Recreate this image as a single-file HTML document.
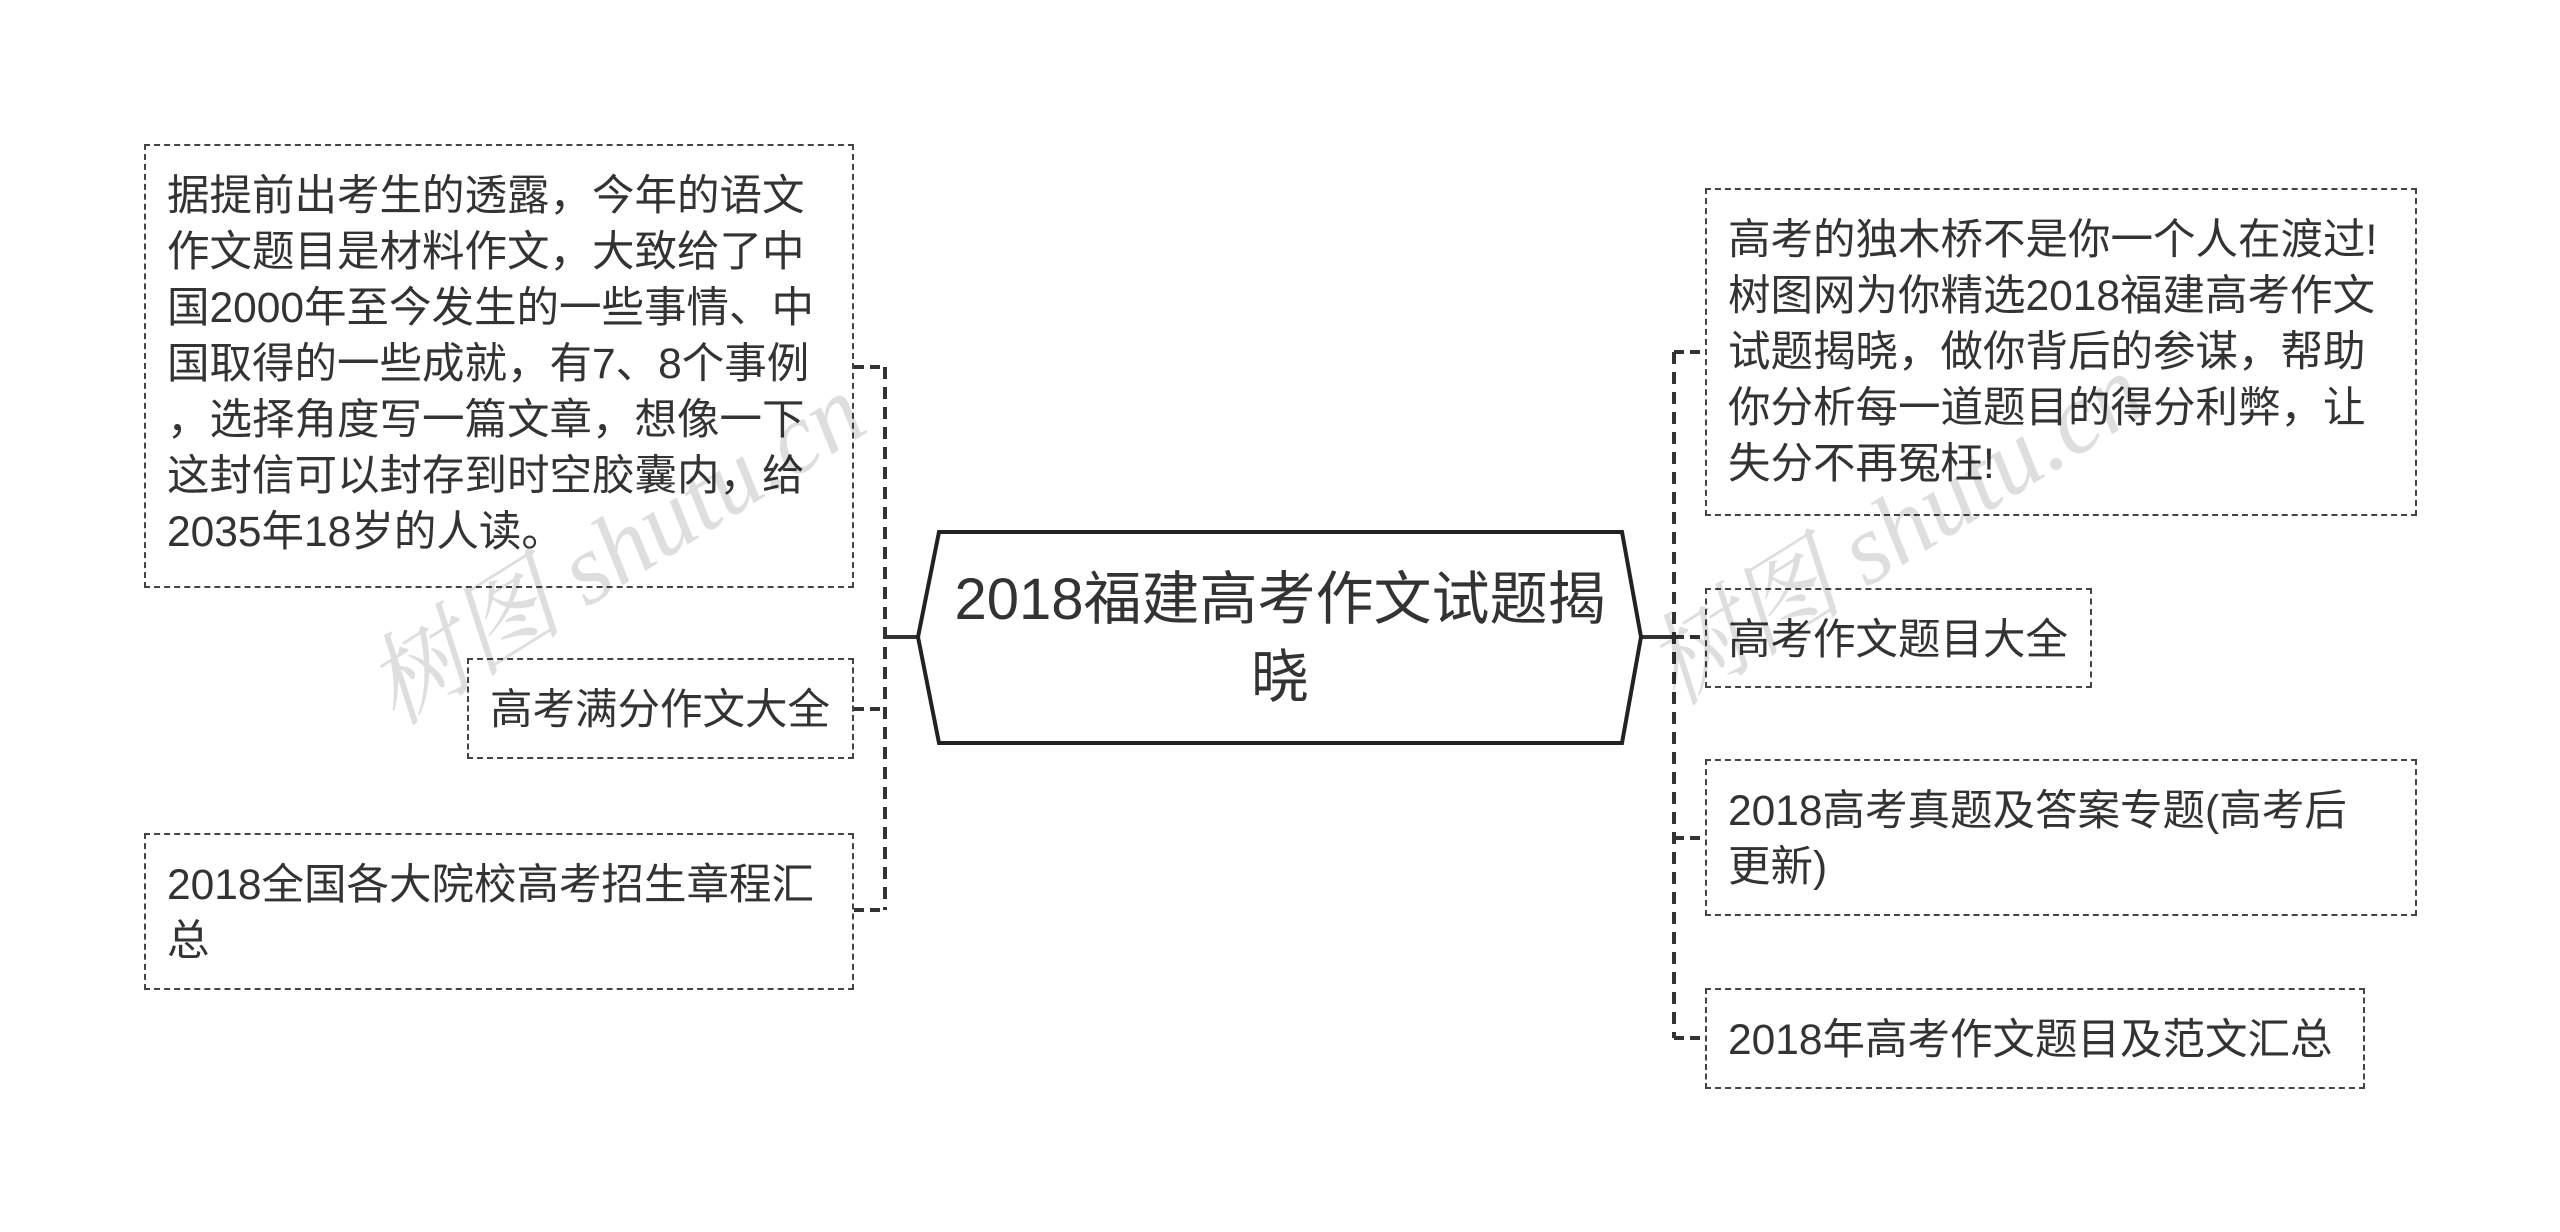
<!DOCTYPE html>
<html><head><meta charset="utf-8"><style>
html,body{margin:0;padding:0;background:#fff;}
body{width:2560px;height:1232px;position:relative;overflow:hidden;font-family:"Liberation Sans","Noto Sans CJK SC",sans-serif;color:#333;}
.b{position:absolute;box-sizing:border-box;border:2px dashed #444;font-size:42.5px;line-height:56px;padding:23px 10px 0 21px;white-space:nowrap;}
.wm{position:absolute;font-size:100px;color:rgba(0,0,0,0.13);transform:rotate(-32deg);white-space:nowrap;font-family:"Liberation Serif","Noto Serif CJK SC",serif;font-style:italic;}
</style></head><body>
<svg width="2560" height="1232" style="position:absolute;left:0;top:0">
<g stroke="#333" stroke-width="4" fill="none">
<line x1="885" y1="367" x2="885" y2="910" stroke-dasharray="12,8"/>
<line x1="854" y1="367" x2="885" y2="367" stroke-dasharray="10,6"/>
<line x1="854" y1="709" x2="885" y2="709" stroke-dasharray="10,6"/>
<line x1="854" y1="910" x2="885" y2="910" stroke-dasharray="10,6"/>
<line x1="885" y1="637" x2="918" y2="637"/>
<line x1="1674" y1="352" x2="1674" y2="1038" stroke-dasharray="12,8"/>
<line x1="1674" y1="352" x2="1705" y2="352" stroke-dasharray="10,6"/>
<line x1="1674" y1="637" x2="1705" y2="637" stroke-dasharray="10,6"/>
<line x1="1674" y1="838" x2="1705" y2="838" stroke-dasharray="10,6"/>
<line x1="1674" y1="1038" x2="1705" y2="1038" stroke-dasharray="10,6"/>
<line x1="1641" y1="637" x2="1674" y2="637"/>
</g>
<polygon points="918,637 939,532 1622,532 1641,637 1622,743 939,743" fill="#fff" stroke="#222" stroke-width="4"/>
<text x="1280" y="619" font-size="58" text-anchor="middle" fill="#333" font-family="Liberation Sans, Noto Sans CJK SC, sans-serif">2018福建高考作文试题揭</text>
<text x="1280" y="697" font-size="58" text-anchor="middle" fill="#333" font-family="Liberation Sans, Noto Sans CJK SC, sans-serif">晓</text>
</svg>
<div class="b" style="left:144px;top:144px;width:710px;height:444px;">据提前出考生的透露，今年的语文<br>作文题目是材料作文，大致给了中<br>国2000年至今发生的一些事情、中<br>国取得的一些成就，有7、8个事例<br>，选择角度写一篇文章，想像一下<br>这封信可以封存到时空胶囊内，给<br>2035年18岁的人读。</div>
<div class="b" style="left:467px;top:658px;width:387px;height:101px;">高考满分作文大全</div>
<div class="b" style="left:144px;top:833px;width:710px;height:157px;">2018全国各大院校高考招生章程汇<br>总</div>
<div class="b" style="left:1705px;top:188px;width:712px;height:328px;">高考的独木桥不是你一个人在渡过!<br>树图网为你精选2018福建高考作文<br>试题揭晓，做你背后的参谋，帮助<br>你分析每一道题目的得分利弊，让<br>失分不再冤枉!</div>
<div class="b" style="left:1705px;top:588px;width:387px;height:100px;">高考作文题目大全</div>
<div class="b" style="left:1705px;top:759px;width:712px;height:157px;">2018高考真题及答案专题(高考后<br>更新)</div>
<div class="b" style="left:1705px;top:988px;width:660px;height:101px;">2018年高考作文题目及范文汇总</div>
<div class="wm" style="left:330px;top:470px;">树图 shutu.cn</div>
<div class="wm" style="left:1610px;top:450px;">树图 shutu.cn</div>
</body></html>
